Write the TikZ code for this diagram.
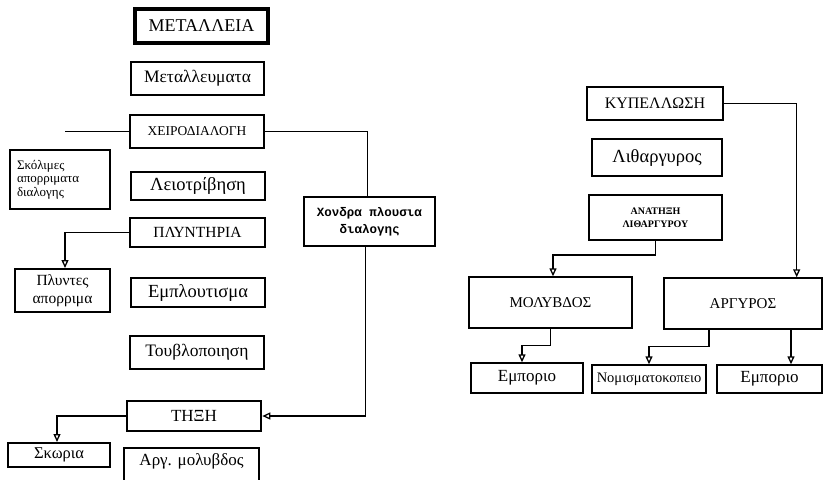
\documentclass[tikz,border=0pt]{standalone}
\usepackage{fontspec}
\setmainfont{Liberation Serif}
\newfontfamily\monofnt{Liberation Mono}
\usetikzlibrary{arrows.meta}

\begin{document}
\begin{tikzpicture}[x=1pt, y=-1pt,
  box/.style={draw, line width=1.4pt, inner sep=0pt, align=center},
  heavy/.style={box, line width=2.6pt},
  fs/.style 2 args={font=\fontsize{#1}{#2}\selectfont},
  conn/.style={line width=1.3pt},
  arr/.style={conn, -{Triangle[open, length=8pt, width=7pt]}}]
% Page frame (pixels of the scan, y downwards)
\clip (0,0) rectangle (824,479);

% Left column: the mine and its processing steps
\node[heavy, line width=3.2pt, minimum width=133, minimum height=34, fs={18}{21}] (metal) at (201.5,26) {ΜΕΤΑΛΛΕΙΑ};
\node[box, minimum width=133, minimum height=33, fs={17.5}{20}] (metall) at (197.5,78.5) {Μεταλλευματα};
\node[heavy, line width=2pt, minimum width=134, minimum height=33, fs={13.5}{16}] (xeir) at (197,131.5) {ΧΕΙΡΟΔΙΑΛΟΓΗ};
\node[box, line width=1.1pt, minimum width=100, minimum height=59, align=left, text width=86, fs={13}{13.5}] (aporr) at (60,179.5) {Σκόλιμες\\απορριματα\\διαλογης};
\node[heavy, line width=2pt, minimum width=134, minimum height=28, fs={18.5}{21}] (leio) at (198,186) {Λειοτρίβηση};
\node[heavy, minimum width=135, minimum height=29, fs={15.5}{18}] (plyn) at (197.5,232.5) {ΠΛΥΝΤΗΡΙΑ};
\node[heavy, line width=2pt, minimum width=95, minimum height=43, fs={15.5}{18}] (plyntes) at (62.5,290.5) {Πλυντες\\απορριμα};
\node[heavy, line width=2pt, minimum width=134, minimum height=29, fs={18.5}{21}] (empl) at (198,292.5) {Εμπλουτισμα};
\node[box, minimum width=131, minimum height=49, font=\monofnt\bfseries\fontsize{12.5}{17}\selectfont] (chondra) at (369.5,221.5) {Χονδρα πλουσια\\διαλογης};
\node[heavy, minimum width=134, minimum height=33, fs={17.5}{20}] (toubl) at (197,352.5) {Τουβλοποιηση};
\node[heavy, minimum width=134, minimum height=30, fs={17}{20}] (tixi) at (194,416) {ΤΗΞΗ};
\node[heavy, line width=2pt, minimum width=102, minimum height=24, fs={16.5}{19}] (skoria) at (59,455) {Σκωρια};
\node[heavy, line width=2pt, minimum width=135, minimum height=44, fs={17}{20}, text depth=20pt] (argmol) at (191.5,470) {Αργ. μολυβδος};

% Right column: cupellation
\node[heavy, line width=2pt, minimum width=136, minimum height=33, fs={16}{19}] (kyp) at (655,103.5) {ΚΥΠΕΛΛΩΣΗ};
\node[box, minimum width=130, minimum height=37, fs={18.5}{21}] (lith) at (657,157.5) {Λιθαργυρος};
\node[heavy, line width=2pt, minimum width=133, minimum height=45, font=\bfseries\fontsize{10}{13}\selectfont] (anat) at (655.5,217.5) {ΑΝΑΤΗΞΗ\\ΛΙΘΑΡΓΥΡΟΥ};
\node[box, minimum width=163, minimum height=51, fs={15}{18}] (molyv) at (550.5,302.5) {ΜΟΛΥΒΔΟΣ};
\node[box, minimum width=158, minimum height=51, fs={15}{18}] (argyr) at (743,303.5) {ΑΡΓΥΡΟΣ};
\node[box, minimum width=112, minimum height=30, fs={17}{20}] (emp1) at (527,378) {Εμποριο};
\node[box, minimum width=114, minimum height=28, fs={14.5}{16}] (nom) at (649,379) {Νομισματοκοπειο};
\node[box, minimum width=105, minimum height=28, fs={17}{20}] (emp2) at (769.5,379) {Εμποριο};

% Connectors
\coordinate (xeirend) at (65,131.5);
\draw[conn] (xeir.west) -- (xeirend);
\draw[conn] (xeir.east) -| ([xshift=-2]chondra.north);
\draw[arr] ([xshift=-4]chondra.south) |- (tixi.east);
\draw[arr] (plyn.west) -| ([xshift=2.5]plyntes.north);
\draw[arr] (tixi.west) -| ([xshift=-2]skoria.north);

\draw[arr] (kyp.east) -| ([xshift=-26]argyr.north east);
\draw[arr] (anat.south) -- ++(0,14) -| ([xshift=2.5]molyv.north);
\draw[arr] (molyv.south) -- ++(0,17) -| ([xshift=-5]emp1.north);
\draw[arr] ([xshift=-34]argyr.south) -- ++(0,17) -| (nom.north);
\draw[arr] ([xshift=48]argyr.south) -- ([xshift=48]argyr.south |- emp2.north);
\end{tikzpicture}
\end{document}
